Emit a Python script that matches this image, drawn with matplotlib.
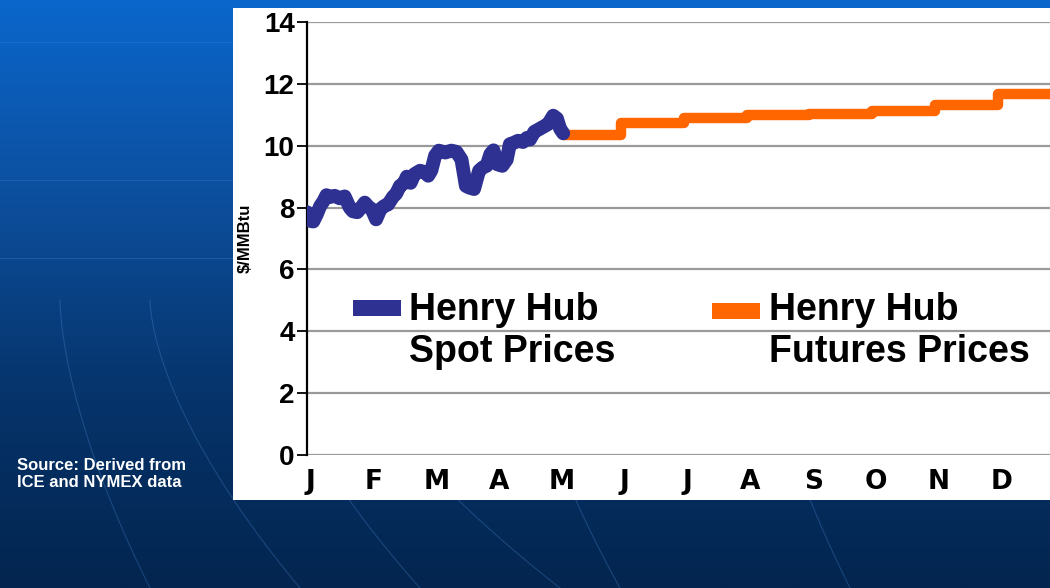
import numpy as np
import matplotlib.pyplot as plt
from matplotlib.patches import Rectangle

plt.rcParams['font.family'] = ['Liberation Sans', 'DejaVu Sans']

# Spot prices, Jan to early May (month index, $/MMBtu)
spot_month = [0.0, 0.05, 0.10, 0.16, 0.21, 0.26, 0.31, 0.36, 0.44, 0.52, 0.60,
              0.68, 0.73, 0.80, 0.88, 0.92, 0.98, 1.03, 1.10, 1.17, 1.23,
              1.29, 1.37, 1.42, 1.48, 1.54, 1.59, 1.65, 1.71, 1.80, 1.87, 1.93,
              1.98, 2.04, 2.10, 2.20, 2.30, 2.38, 2.46, 2.53, 2.58, 2.66, 2.74,
              2.80, 2.86, 2.92, 2.97, 3.03, 3.11, 3.18, 3.23, 3.30, 3.36, 3.44,
              3.50, 3.55, 3.62, 3.70, 3.77, 3.84, 3.92, 3.98, 4.03, 4.08]
spot_price = [7.85, 7.57, 7.55, 7.80, 8.05, 8.20, 8.40, 8.34, 8.38, 8.30, 8.36,
              8.00, 7.88, 7.85, 8.05, 8.16, 8.02, 7.95, 7.62, 7.95, 8.05,
              8.10, 8.35, 8.45, 8.70, 8.78, 9.00, 8.80, 9.08, 9.19, 9.15, 9.03,
              9.20, 9.68, 9.84, 9.78, 9.84, 9.80, 9.55, 8.70, 8.65, 8.60, 9.19,
              9.30, 9.35, 9.73, 9.85, 9.40, 9.35, 9.55, 10.05, 10.10, 10.16,
              10.12, 10.25, 10.20, 10.45, 10.54, 10.62, 10.70, 10.97, 10.88,
              10.55, 10.40]

# Futures strip, May to Dec (step per contract month)
fut_month = [4.08, 5, 6, 7, 8, 9, 10, 11, 12]
fut_price = [10.35, 10.74, 10.90, 10.99, 11.04, 11.12, 11.32, 11.67, 11.67]

month_labels = ['J', 'F', 'M', 'A', 'M', 'J', 'J', 'A', 'S', 'O', 'N', 'D']
y_ticks = [0, 2, 4, 6, 8, 10, 12, 14]

W, H = 1050, 588
fig = plt.figure(figsize=(10.5, 5.88), dpi=100)

# slide background
bg = fig.add_axes([0, 0, 1, 1], zorder=-2)
grad = np.linspace(0, 1, 256).reshape(-1, 1)
cmap = plt.matplotlib.colors.LinearSegmentedColormap.from_list(
    'slide', ['#0a67cc', '#0d4f9e', '#06346b', '#03254f'])
bg.imshow(grad, aspect='auto', cmap=cmap, extent=[0, W, H, 0])
for yy in [42, 180, 258]:
    bg.plot([0, W], [yy, yy], color='#4f8fd8', lw=0.8, alpha=0.25)
for x0, x1 in [(60, 150), (150, 300), (260, 420), (330, 560), (520, 620), (760, 850)]:
    t = np.linspace(0, 1, 50)
    bg.plot(x0 + (x1 - x0) * t ** 1.6, 300 + 288 * t, color='#4f8fd8', lw=0.8, alpha=0.3)
bg.set_xlim(0, W)
bg.set_ylim(H, 0)
bg.axis('off')

# white chart panel
fig.patches.append(Rectangle((233 / W, 1 - 500 / H), 1 - 233 / W, (500 - 8) / H,
                             transform=fig.transFigure, facecolor='white',
                             edgecolor='none', zorder=-1))

ax = fig.add_axes([307 / W, 1 - 455 / H, 12 * 62.8 / W, (455 - 22) / H])
ax.set_facecolor('none')
ax.plot(spot_month, spot_price, color='#2e3192', lw=10,
        solid_capstyle='round', solid_joinstyle='round', zorder=4)
ax.plot(fut_month, fut_price, color='#ff6600', lw=7.5, drawstyle='steps-post',
        solid_capstyle='butt', solid_joinstyle='round', zorder=3)

ax.set_xlim(0, 12)
ax.set_ylim(0, 14)
ax.set_yticks(y_ticks)
ax.set_yticklabels([str(v) for v in y_ticks], fontsize=20, fontweight='bold')
ax.set_xticks(np.arange(12) + 0.06)
ax.set_xticklabels(month_labels, fontsize=19, fontweight='bold', family='DejaVu Sans')
ax.tick_params(axis='x', length=0, pad=10)
ax.tick_params(axis='y', length=7, width=1.3, direction='out', pad=2)
ax.grid(axis='y', color='#9a9a9a', lw=1.6)
for s in ['top', 'right', 'bottom']:
    ax.spines[s].set_visible(False)
ax.spines['left'].set_linewidth(1.6)
ax.set_ylabel('$/MMBtu', fontsize=12, fontweight='bold', labelpad=8)

# legend entries
fig.patches.append(Rectangle((353 / W, 1 - 316 / H), 48 / W, 16 / H,
                             transform=fig.transFigure, facecolor='#2e3192',
                             edgecolor='none'))
fig.text(409 / W, 1 - 331 / H, 'Henry Hub\nSpot Prices', fontsize=27,
         fontweight='bold', va='center', ha='left', linespacing=1.25)
fig.patches.append(Rectangle((712 / W, 1 - 319 / H), 48 / W, 16 / H,
                             transform=fig.transFigure, facecolor='#ff6600',
                             edgecolor='none'))
fig.text(769 / W, 1 - 331 / H, 'Henry Hub\nFutures Prices', fontsize=27,
         fontweight='bold', va='center', ha='left', linespacing=1.25)

fig.text(17 / W, 1 - 474 / H, 'Source: Derived from\nICE and NYMEX data',
         fontsize=12, fontweight='bold', color='white', va='center', ha='left',
         linespacing=1.1)

fig.savefig('out.png', dpi=100)
